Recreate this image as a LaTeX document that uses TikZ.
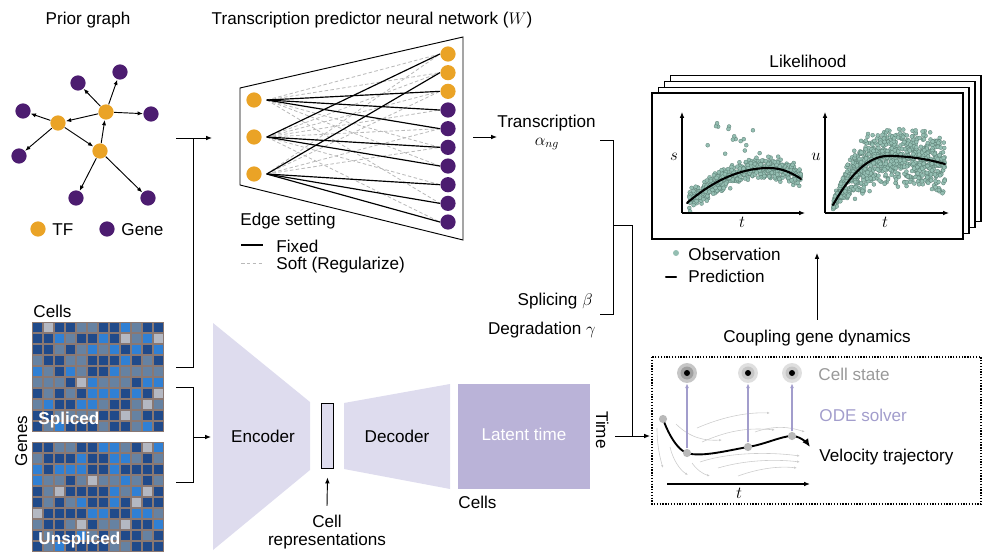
\documentclass[tikz,border=0pt]{standalone}
\usepackage{fontspec}
\setmainfont{Liberation Sans}
\usetikzlibrary{arrows.meta}
\definecolor{tfcol}{RGB}{234,163,38}
\definecolor{genecol}{RGB}{76,28,112}
\definecolor{lav}{RGB}{222,220,238}
\definecolor{lavdark}{RGB}{186,179,216}
\definecolor{lavtext}{RGB}{162,157,204}
\definecolor{obsfill}{RGB}{148,190,178}
\definecolor{obsline}{RGB}{84,118,108}
\definecolor{cdark}{RGB}{32,74,138}
\definecolor{cblue}{RGB}{48,128,212}
\definecolor{cgray}{RGB}{102,130,162}
\definecolor{clight}{RGB}{180,184,194}
\definecolor{cgrid}{RGB}{138,120,114}
\tikzstyle{every node}=[inner sep=0, font=\fontsize{14.6}{17}\selectfont]
\tikzstyle{tf}=[circle, fill=tfcol, minimum size=13pt]
\tikzstyle{gene}=[circle, fill=genecol, minimum size=13pt]
\tikzstyle{arr}=[-{Latex[length=5pt, width=4pt]}]
\tikzstyle{edge}=[-{Latex[length=4.5pt, width=3.6pt]}]
\tikzstyle{fixed}=[line width=1pt]
\tikzstyle{soft}=[densely dashed, gray!55, line width=0.7pt]
\tikzstyle{obs}=[fill=obsfill, draw=obsline, line width=0.2pt]
\tikzstyle{pred}=[line width=1.8pt, line cap=round]
\tikzstyle{stream}=[gray!40, line width=0.5pt, -{Latex[length=2.5pt, width=2pt]}]
\tikzstyle{lavarr}=[lavtext, line width=0.9pt, -{Latex[length=4pt, width=3.5pt]}]
\pgfmathdeclarerandomlist{cellcol}{{cdark}{cdark}{cdark}{cdark}{cgray}{cgray}{cgray}{cblue}{cblue}{clight}}

\begin{document}
\begin{tikzpicture}[x=0.03cm, y=-0.03cm, line width=0.8pt]
\useasboundingbox (0,0) rectangle (994,560);
% Prior graph
    \node[anchor=base] (ptitle) at (88,25) {Prior graph};
    \node[tf] (tfa) at (58,123) {};
    \node[tf] (tfb) at (106,112) {};
    \node[tf] (tfc) at (100,151) {};
    \node[gene] (ga) at (78,83) {};
    \node[gene] (gb) at (120,72) {};
    \node[gene] (gc) at (151,114) {};
    \node[gene] (gd) at (23,111) {};
    \node[gene] (ge) at (19,156) {};
    \node[gene] (gf) at (76,198) {};
    \node[gene] (gg) at (148,198) {};
    \draw[edge] (tfb) -- (ga);
    \draw[edge] (tfb) -- (gb);
    \draw[edge] (tfb) -- (gc);
    \draw[edge] (tfb) -- (tfa);
    \draw[edge] (tfa) -- (gd);
    \draw[edge] (tfa) -- (ge);
    \draw[edge] (tfa) -- (tfc);
    \draw[edge] (tfc) -- (tfb);
    \draw[edge] (tfc) -- (gf);
    \draw[edge] (tfc) -- (gg);
    \node[tf] (ltf) at (38,229) {};
    \node[anchor=base west] (ltftxt) at (52,235) {TF};
    \node[gene] (lgene) at (107,229) {};
    \node[anchor=base west] (lgenetxt) at (121,235) {Gene};
% Neural network
    \node[anchor=base] (nntitle) at (372,24) {Transcription predictor neural network ($W$)};
    \draw (240,88) -- (463,37) -- (463,240) -- (240,185) -- cycle;
    \node[tf] (l1) at (254,100) {};
    \node[tf] (l2) at (254,137) {};
    \node[tf] (l3) at (254,174) {};
    \foreach \i in {1,...,10} {
        \pgfmathsetmacro\ry{54+(\i-1)*18.67}
        \ifnum\i<4 \node[tf] (r\i) at (448,\ry) {}; \else \node[gene] (r\i) at (448,\ry) {}; \fi
    }
    \foreach \a/\b in {1/1,1/2,1/6,1/7,1/9,2/2,2/3,2/4,2/5,2/8,2/10,3/1,3/3,3/5,3/6}
        \draw[soft] ([xshift=4pt]l\a.east) -- (r\b.west);
    \foreach \a/\b in {1/3,1/4,1/5,2/1,2/6,2/7,3/2,3/8,3/9,3/10}
        \draw[fixed] ([xshift=4pt]l\a.east) -- (r\b.west);
% Edge legend
    \node[anchor=base west] (edgeset) at (240,225) {Edge setting};
    \draw[fixed] (241,245) -- (263,245);
    \node[anchor=base west] (fixtxt) at (276,252) {Fixed};
    \draw[soft] (241,263) -- (263,263);
    \node[anchor=base west] (softtxt) at (276,269) {Soft (Regularize)};
% Inputs
    \coordinate (gtop) at (176,138);
    \coordinate (gcor) at (193,138);
    \coordinate (gbot) at (193,367);
    \coordinate (mtop) at (176,367);
    \coordinate (nnin) at (212,138);
    \draw (gtop) -- (gcor) -- (gbot) -- (mtop);
    \draw[arr] (gcor) -- (nnin);
    \coordinate (sa) at (176,387);
    \coordinate (sb) at (193,387);
    \coordinate (sc) at (193,482);
    \coordinate (sd) at (176,482);
    \coordinate (smid) at (193,437);
    \coordinate (encin) at (211,437);
    \draw (sa) -- (sb) -- (sc) -- (sd);
    \draw[arr] (smid) -- (encin);
% Matrices
    \node[anchor=base west] (cellstop) at (33,317) {Cells};
    \node[rotate=90, anchor=base] (genes) at (27,441) {Genes};
    \fill[cgrid] (32,322) rectangle (164,432);
    \fill[cgrid] (32,442) rectangle (164,552);
    \pgfmathsetseed{11}
    \foreach \r in {0,...,9} \foreach \c in {0,...,11} {
        \pgfmathrandomitem{\cc}{cellcol}
        \fill[\cc] ({32.8+11*\c},{322.8+11*\r}) rectangle ++(9.4,9.4);
        \pgfmathrandomitem{\cc}{cellcol}
        \fill[\cc] ({32.8+11*\c},{442.8+11*\r}) rectangle ++(9.4,9.4);
    }
    \node[anchor=base west, text=white, font=\fontsize{14.6}{17}\selectfont\bfseries] (spl) at (38,424) {Spliced};
    \node[anchor=base west, text=white, font=\fontsize{14.6}{17}\selectfont\bfseries] (unspl) at (38,544) {Unspliced};
% Encoder and decoder
    \fill[lav] (213,323) -- (310,402) -- (310,470) -- (213,550) -- cycle;
    \node[anchor=base] (enc) at (263,442) {Encoder};
    \node[draw, fill=lav, minimum width=11pt, minimum height=56pt] (rep) at (327.5,436) {};
    \node[anchor=base] (cellw) at (327,527) {Cell};
    \node[anchor=base] (repw) at (327,545) {representations};
    \draw[arr] ([yshift=7pt]cellw.north) -- ([yshift=-7pt]rep.south);
    \fill[lav] (344,403) -- (450,384) -- (450,489) -- (344,469) -- cycle;
    \node[anchor=base] (dec) at (397,442) {Decoder};
    \fill[lavdark] (458,384) rectangle (590,489);
    \node[anchor=base, text=white] (latent) at (524,440) {Latent time};
    \node[anchor=base west] (cellsbot) at (458,508) {Cells};
    \node[rotate=-90, anchor=base] (time) at (596,430) {Time};
% Kinetic rates
    \coordinate (nnout) at (473,137);
    \coordinate (transin) at (497,137);
    \draw[arr] (nnout) -- (transin);
    \node[anchor=base west] (trans) at (497,127) {Transcription};
    \node[anchor=base] (alpha) at (547,145) {$\alpha_{ng}$};
    \node[anchor=base east] (splice) at (593,305) {Splicing $\beta$};
    \node[anchor=base east] (degr) at (596,334) {Degradation $\gamma$};
    \coordinate (bra) at (600,140);
    \coordinate (brb) at (613,140);
    \coordinate (brc) at (613,314);
    \coordinate (brd) at (600,314);
    \coordinate (brm) at (613,225);
    \coordinate (brn) at (632,225);
    \coordinate (brt) at (632,436);
    \coordinate (timeout) at (615,436);
    \coordinate (boxin) at (650,436);
    \draw (bra) -- (brb) -- (brc) -- (brd);
    \draw (brm) -- (brn) -- (brt);
    \draw[arr] (timeout) -- (boxin);
% Likelihood
    \node[anchor=base] (ltitle) at (808,67) {Likelihood};
    \foreach \k in {3,2,1,0}
        \draw[fill=white, line width=0.9pt] ({652+6.3*\k},{93-5.7*\k}) rectangle ({963+6*\k},{239-5.7*\k});
    \begin{scope}
        \clip (684,100) rectangle (806,211);
        \pgfmathsetseed{7}
        \foreach \i in {1,...,520} {
            \pgfmathsetmacro\tv{0.02+0.98*rnd}
            \pgfmathsetmacro\yv{203-35*(1-((\tv-0.72)/ifthenelse(\tv<0.72,0.72,0.5))^2)+6.5*(rand+rand)}
            \path[obs] ({687+114*\tv},\yv) circle (2);
        }
        \foreach \i in {1,...,16} {
            \pgfmathsetmacro\tv{0.1+0.6*rnd}
            \pgfmathsetmacro\yv{122+42*rnd}
            \path[obs] ({687+114*\tv},\yv) circle (2);
        }
        \draw[pred] plot[domain=0:1, samples=50] ({687+114*\x},{203-35*(1-((\x-0.72)/ifthenelse(\x<0.72,0.72,0.5))^2)});
    \end{scope}
    \begin{scope}
        \clip (827,100) rectangle (950,211);
        \foreach \i in {1,...,950} {
            \pgfmathsetmacro\tv{rnd}
            \pgfmathsetmacro\yv{205-49*(1-((\tv-0.49)/ifthenelse(\tv<0.49,0.49,1.26))^2)+(3+13*min(4*\tv,1))*(rand+rand)}
            \path[obs] ({833+112*\tv},\yv) circle (2);
        }
        \draw[pred] plot[domain=0:1, samples=50] ({833+112*\x},{205-49*(1-((\x-0.49)/ifthenelse(\x<0.49,0.49,1.26))^2)});
    \end{scope}
    \draw[arr, line width=0.9pt] (682,213) -- (682,112);
    \draw[arr, line width=0.9pt] (682,213) -- (805,213);
    \draw[arr, line width=0.9pt] (825,213) -- (825,112);
    \draw[arr, line width=0.9pt] (825,213) -- (949,213);
    \node (slab) at (674,157) {$s$};
    \node (ulab) at (816,157) {$u$};
    \node[anchor=base] (tlaba) at (742,227) {$t$};
    \node[anchor=base] (tlabb) at (885,227) {$t$};
    \path[fill=obsfill] (676,253) circle (3);
    \node[anchor=base west] (obstxt) at (688,260) {Observation};
    \draw[pred] (666,277) -- (676,277);
    \node[anchor=base west] (predtxt) at (688,282) {Prediction};
% Coupling gene dynamics
    \node[anchor=base] (ctitle) at (817,342) {Coupling gene dynamics};
    \coordinate (likein) at (817,253);
    \draw[arr] ([yshift=8pt]ctitle.north) -- (likein);
    \draw[dash pattern=on 1.1pt off 1.3pt, line width=1pt] (652,357) rectangle (981,504);
    \draw[stream] (676,424) .. controls (690,438) and (705,441) .. (722,440);
    \draw[stream] (697,428) .. controls (720,418) and (745,412) .. (770,413);
    \draw[stream] (702,442) .. controls (725,432) and (745,427) .. (775,430);
    \draw[stream] (755,432) .. controls (775,425) and (790,427) .. (805,432);
    \draw[stream] (700,462) .. controls (730,452) and (770,452) .. (800,456);
    \draw[stream] (718,468) .. controls (745,460) and (775,459) .. (800,462);
    \draw[stream] (738,476) .. controls (760,468) and (780,466) .. (797,468);
    \draw[stream] (657,428) .. controls (657,445) and (660,458) .. (663,468);
    \draw[stream] (670,447) .. controls (673,460) and (680,470) .. (688,475);
    \draw[stream] (692,463) .. controls (697,470) and (703,474) .. (710,476);
    \coordinate (c0) at (663,419);
    \coordinate (c1) at (687,453);
    \coordinate (c2) at (748,447);
    \coordinate (c3) at (792,436);
    \coordinate (c4) at (810,447);
    \draw[line width=1.6pt, -{Latex[length=7pt, width=6pt]}] plot[smooth, tension=0.6] coordinates {(c0) (c1) (c2) (c3) (c4)};
    \node[circle, fill=gray!55, minimum size=7pt] (tp0) at (c0) {};
    \node[circle, fill=gray!55, minimum size=7pt] (tp1) at (c1) {};
    \node[circle, fill=gray!55, minimum size=7pt] (tp2) at (c2) {};
    \node[circle, fill=gray!55, minimum size=7pt] (tp3) at (c3) {};
    \node[circle, fill=gray!45, minimum size=17pt] (cs1) at (687,373) {};
    \node[circle, fill=gray!25, minimum size=17pt] (cs2) at (748,373) {};
    \node[circle, fill=gray!25, minimum size=17pt] (cs3) at (792,373) {};
    \fill[gray!75] (cs1) circle (6.5);
    \fill[gray!45] (cs2) circle (6.5);
    \fill[gray!45] (cs3) circle (6.5);
    \fill (cs1) circle (3);
    \fill (cs2) circle (3);
    \fill (cs3) circle (3);
    \draw[lavarr] (tp1) -- (cs1);
    \draw[lavarr] (tp2) -- (cs2);
    \draw[lavarr] (tp3) -- (cs3);
    \node[anchor=base west, text=gray!80] (statetxt) at (818,380) {Cell state};
    \node[anchor=base west, text=lavtext] (odetxt) at (819,421) {ODE solver};
    \node[anchor=base west] (veltxt) at (819,461) {Velocity trajectory};
    \coordinate (ta) at (667,484);
    \coordinate (tb) at (810,484);
    \draw[arr, line width=1pt] (ta) -- (tb);
    \node[anchor=base] (tlabc) at (739,498) {$t$};
\end{tikzpicture}
\end{document}
